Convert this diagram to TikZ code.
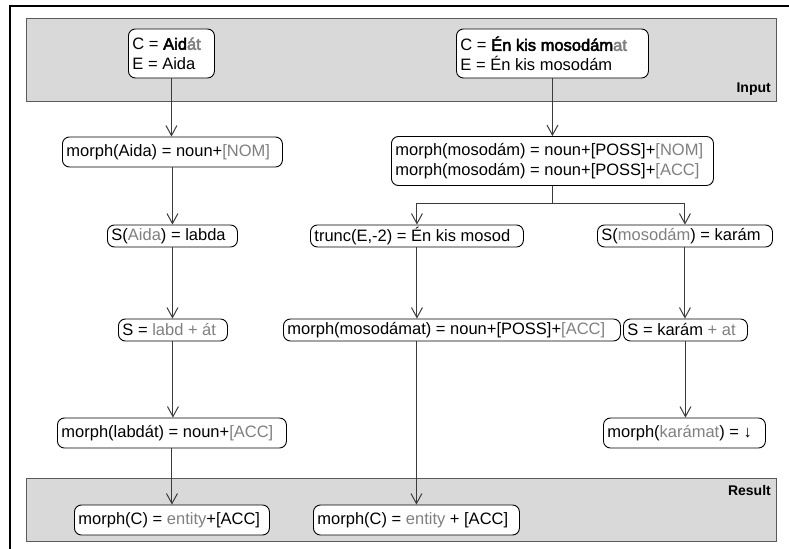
\documentclass[tikz,border=0pt]{standalone}
\usepackage{fontspec}
\setmainfont{Liberation Sans}
\newfontfamily\fbold{Liberation Sans}[FakeBold=3]
\usetikzlibrary{arrows.meta}
\definecolor{tg}{HTML}{808080}
\definecolor{band}{HTML}{D9D9D9}
\definecolor{bandline}{HTML}{5A5A5A}
\definecolor{arrc}{HTML}{3C3C3C}
\newcommand{\lb}[2]{\makebox[#1][l]{#2}}
\begin{document}
\begin{tikzpicture}[x=1bp,y=-1bp,
  every node/.style={font=\fontsize{16.5bp}{19.5bp}\selectfont},
  stepbox/.style={draw=black, line width=0.9bp, rounded corners=7bp, fill=white,
    inner xsep=4bp, inner ysep=2bp, align=left, anchor=west},
  arr/.style={draw=arrc, line width=1bp, -{Straight Barb[length=10bp,width=11bp]}},
  bandbox/.style={draw=bandline, line width=1bp, fill=band},
  bandlabel/.style={font=\fontsize{14bp}{16bp}\selectfont\bfseries, anchor=base east, inner sep=0pt}]
\useasboundingbox (0,0) rectangle (789,549);
\draw[line width=1.2bp] (10,549) -- (10,6) -- (789,6);
\path[bandbox] (26,19) rectangle (776,102);
\node[bandlabel] (inlab) at (771,93) {Input};
\path[bandbox] (26,478) rectangle (776,541);
\node[bandlabel] (reslab) at (771,495.5) {Result};

% left column
\node[stepbox, minimum height=49bp] (A1) at (128,53.5)
  {\lb{78bp}{C = {\fbold Aid\textcolor{tg}{át}}}\\\lb{78bp}{E = Aida}};
\node[stepbox, minimum height=30bp] (A2) at (62,152)
  {\lb{212bp}{morph(Aida) = noun+\textcolor{tg}{[NOM]}}};
\node[stepbox, minimum height=22bp] (A3) at (107,236)
  {\lb{122bp}{S(\textcolor{tg}{Aida}) = labda}};
\node[stepbox, minimum height=22bp] (A4) at (118,330)
  {\lb{101bp}{S = \textcolor{tg}{labd + át}}};
\node[stepbox, minimum height=30bp] (A5) at (57,433)
  {\lb{221bp}{morph(labdát) = noun+\textcolor{tg}{[ACC]}}};
\node[stepbox, minimum height=30bp] (A6) at (74,520)
  {\lb{187bp}{morph(C) = \textcolor{tg}{entity}+[ACC]}};

% right part
\node[stepbox, minimum height=49bp] (B1) at (456,53.5)
  {\lb{184bp}{C = {\fbold Én kis mosodám\textcolor{tg}{at}}}\\\lb{184bp}{E = Én kis mosodám}};
\node[stepbox, minimum height=49bp] (B2) at (391,161)
  {\lb{314bp}{morph(mosodám) = noun+[POSS]+\textcolor{tg}{[NOM]}}\\\lb{314bp}{morph(mosodám) = noun+[POSS]+\textcolor{tg}{[ACC]}}};
\node[stepbox, minimum height=22bp] (B3) at (310,236)
  {\lb{205bp}{trunc(E,-2) = Én kis mosod}};
\node[stepbox, minimum height=22bp] (B4) at (597,236)
  {\lb{167bp}{S(\textcolor{tg}{mosodám}) = karám}};
\node[stepbox, minimum height=22bp] (B5) at (283,330)
  {\lb{329bp}{morph(mosodámat) = noun+[POSS]+\textcolor{tg}{[ACC]}}};
\node[stepbox, minimum height=22bp] (B6) at (623,330)
  {\lb{116bp}{S = karám \textcolor{tg}{+ at}}};
\node[stepbox, minimum height=30bp] (B7) at (603,433)
  {\lb{154bp}{morph(\textcolor{tg}{karámat}) = ↓}};
\node[stepbox, minimum height=30bp] (B8) at (313,520)
  {\lb{198bp}{morph(C) = \textcolor{tg}{entity} + [ACC]}};

% connectors
\draw[arr] (A1.south) -- (A1.south |- A2.north);
\draw[arr] (A2.south) -- (A2.south |- A3.north);
\draw[arr] (A3.south) -- (A3.south |- A4.north);
\draw[arr] (A4.south) -- (A4.south |- A5.north);
\draw[arr] (A5.south) -- (A5.south |- A6.north);
\draw[arr] (B1.south) -- (B1.south |- B2.north);
\coordinate (br) at (552,204);
\draw[draw=arrc, line width=1bp] (B2.south -| br) -- (br);
\draw[arr] (br) -| (B3.north);
\draw[arr] (br) -| (B4.north);
\draw[arr] (B3.south) -- (B3.south |- B5.north);
\draw[arr] (B5.south -| B8.north) -- (B8.north);
\draw[arr] (B4.south) -- (B4.south |- B6.north);
\draw[arr] (B6.south) -- (B6.south |- B7.north);
\end{tikzpicture}
\end{document}
